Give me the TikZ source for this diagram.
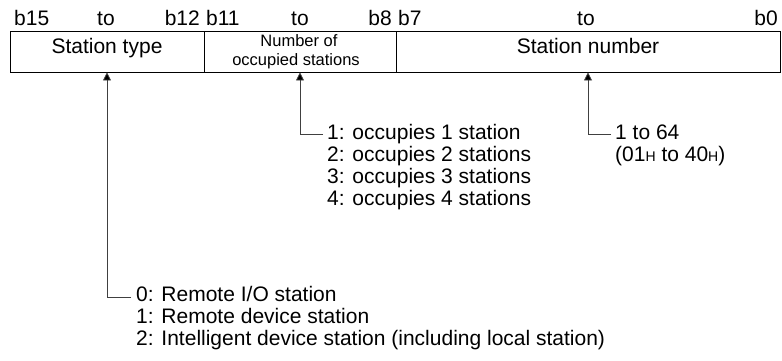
\documentclass[tikz,border=0pt]{standalone}
\usepackage{fontspec}
\setmainfont{Liberation Sans}
\usetikzlibrary{arrows.meta}
\newcommand{\hsub}[1]{{\fontsize{14}{14}\selectfont #1}}
\begin{document}
\begin{tikzpicture}[x=1pt,y=-1pt,
  lbl/.style={inner sep=0pt, font=\fontsize{21}{22}\selectfont},
  sml/.style={inner sep=0pt, font=\fontsize{16.5}{18}\selectfont},
  cell/.style={draw, line width=0.9pt, minimum height=41pt, inner sep=0pt},
  arr/.style={draw=black!75, line width=0.75pt, -{Triangle[width=8pt,length=8pt,fill=black]}}]
\path[use as bounding box] (0,0) rectangle (782,361);
% cells
\node[cell, minimum width=194pt] (st) at (107,51.5) {};
\node[cell, minimum width=192pt] (occ) at (300,51.5) {};
\node[cell, minimum width=384pt] (sn) at (588,51.5) {};
% cell texts
\node[lbl, anchor=base] (stt) at (107,54) {Station type};
\node[sml, anchor=base] (occ1) at (299,47) {Number of};
\node[sml, anchor=base] (occ2) at (296,66) {occupied stations};
\node[lbl, anchor=base] (snt) at (588,54) {Station number};
% header bits
\node[lbl, anchor=base west] (h15) at (14,26) {b15};
\node[lbl, anchor=base west] (hto1) at (97,26) {to};
\node[lbl, anchor=base east] (h12) at (200,26) {b12};
\node[lbl, anchor=base west] (h11) at (206,26) {b11};
\node[lbl, anchor=base west] (hto2) at (291,26) {to};
\node[lbl, anchor=base east] (h8) at (392,26) {b8};
\node[lbl, anchor=base west] (h7) at (398,26) {b7};
\node[lbl, anchor=base west] (hto3) at (577,26) {to};
\node[lbl, anchor=base east] (h0) at (778,26) {b0};
% leaders
\coordinate (k1) at (131,297);
\coordinate (k2) at (323,134);
\coordinate (k3) at (611,134);
\draw[arr] (k1) -| (st.south);
\draw[arr] (k2) -| (occ.south);
\draw[arr] (k3) -| (sn.south);
% lists
\node[lbl, anchor=base west] (o1) at (327,139) {1: occupies 1 station};
\node[lbl, anchor=base west] (o2) at (327,161) {2: occupies 2 stations};
\node[lbl, anchor=base west] (o3) at (327,183) {3: occupies 3 stations};
\node[lbl, anchor=base west] (o4) at (327,205) {4: occupies 4 stations};
\node[lbl, anchor=base west] (n1) at (615,139) {1 to 64};
\node[lbl, anchor=base west] (n2) at (615,161) {(01\hsub{H} to 40\hsub{H})};
\node[lbl, anchor=base west] (t0) at (136,301) {0: Remote I/O station};
\node[lbl, anchor=base west] (t1) at (136,323) {1: Remote device station};
\node[lbl, anchor=base west] (t2) at (136,345) {2: Intelligent device station (including local station)};
\end{tikzpicture}
\end{document}
